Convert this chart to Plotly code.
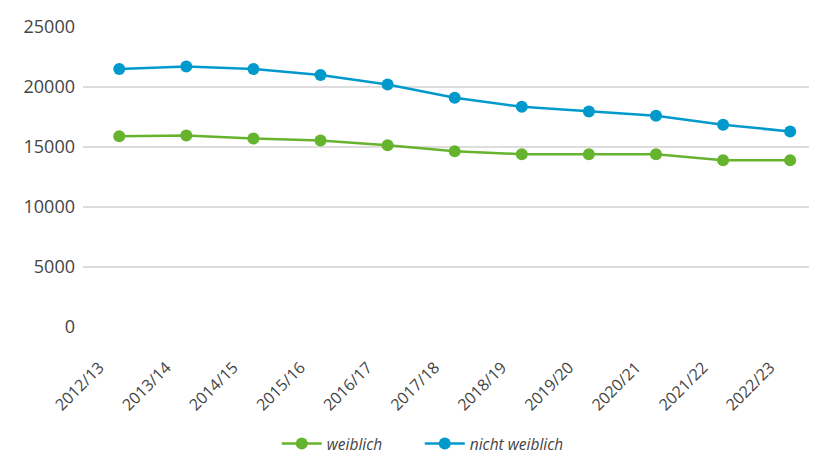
import plotly.graph_objects as go

years = ["2012/13", "2013/14", "2014/15", "2015/16", "2016/17", "2017/18",
         "2018/19", "2019/20", "2020/21", "2021/22", "2022/23"]
weiblich = [15900, 15950, 15700, 15550, 15150, 14650, 14400, 14400, 14400, 13900, 13900]
nicht_weiblich = [21500, 21700, 21500, 21000, 20200, 19100, 18350, 17950, 17600, 16850, 16300]

green = "#66B32E"
blue = "#0099CC"

fig = go.Figure()

fig.add_trace(go.Scatter(x=years, y=weiblich, mode="lines+markers", name="weiblich",
                         line=dict(color=green, width=2.5),
                         marker=dict(color=green, size=12)))
fig.add_trace(go.Scatter(x=years, y=nicht_weiblich, mode="lines+markers", name="nicht weiblich",
                         line=dict(color=blue, width=2.5),
                         marker=dict(color=blue, size=12)))

# page body has an 8px margin, so the figure is a bit smaller than the window
fig.update_layout(
    width=809, height=453,
    paper_bgcolor="white", plot_bgcolor="white",
    font=dict(family="Open Sans", color="#444444"),
    margin=dict(l=75, r=0, t=19, b=134, autoexpand=False),
    showlegend=True,
    legend=dict(orientation="h", xref="container", x=0.509, xanchor="center",
                yref="container", y=-0.014, yanchor="bottom",
                entrywidth=88,
                font=dict(size=15.5, style="italic", color="#444444"),
                itemwidth=40),
    xaxis=dict(range=[-0.54, 10.4], tickangle=-45, showgrid=False, zeroline=False,
               showline=False, ticks="", automargin=False,
               ticklabelstandoff=27, ticklabelshift=-20,
               tickfont=dict(size=16, color="#444444")),
    yaxis=dict(range=[0, 25000], dtick=5000, tickformat="d", showgrid=True,
               gridcolor="#dddddd", gridwidth=1.5, zeroline=False, showline=False,
               ticks="", automargin=False, ticklabelstandoff=7,
               tickfont=dict(size=18, color="#444444")),
)

fig.write_html("out.html")
